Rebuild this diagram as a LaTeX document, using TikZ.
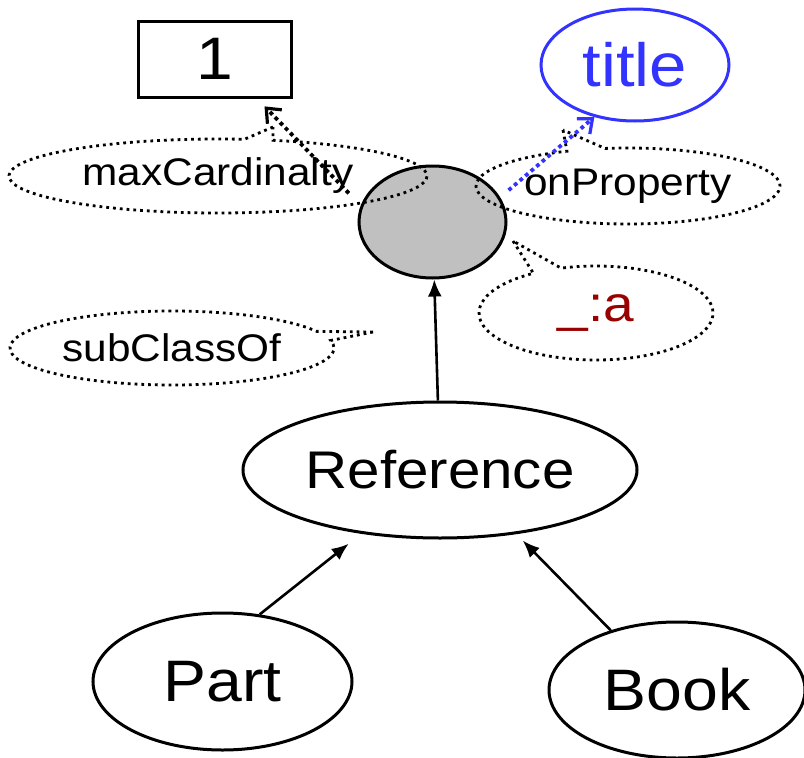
\documentclass[tikz,border=0pt]{standalone}
\usepackage{fontspec}
\setmainfont[FakeStretch=1.1]{Liberation Sans}
\usetikzlibrary{shapes.geometric,shapes.callouts,arrows.meta}

\definecolor{titleblue}{RGB}{51,51,255}
\definecolor{blankred}{RGB}{153,0,0}
\definecolor{blankgray}{RGB}{192,192,192}

\tikzset{
  class/.style={ellipse,draw,line width=3pt,inner sep=0pt},
  literal/.style={rectangle,draw,line width=3pt,inner sep=0pt},
  note/.style={ellipse callout,draw,line width=2.8pt,dash pattern=on 2.8pt off 4pt,
    inner sep=0pt,font=\fontsize{38.5}{40}\selectfont},
  sub/.style={-{Latex[length=17pt,width=14pt]},line width=2.6pt},
  prop/.style={-{Straight Barb[length=12pt,width=20pt,line width=3.2pt]},
    line width=3.8pt,dash pattern=on 3.8pt off 3.5pt}
}

\begin{document}
\begin{tikzpicture}[x=1pt,y=1pt]%,node distance=5cm]
  \useasboundingbox (0,0) rectangle (804,-758);

  \node[class,fill=blankgray,minimum width=147pt,minimum height=112pt] (node1) at (432.5,-222) {};
  \node[literal,minimum width=153pt,minimum height=76pt,font=\fontsize{60}{60}\selectfont] (node2) at (214.5,-59) {1};
  \node[class,draw=titleblue,text=titleblue,minimum width=188pt,minimum height=112pt,font=\fontsize{61}{61}\selectfont] (node3) at (635,-65) {title};
  \node[class,minimum width=394pt,minimum height=136pt,font=\fontsize{53}{53}\selectfont] (node4) at (440,-470) {Reference};
  \node[class,minimum width=259pt,minimum height=137pt,font=\fontsize{58.5}{58.5}\selectfont] (node5) at (222.5,-681.5) {Part};
  \node[class,minimum width=256pt,minimum height=136pt,font=\fontsize{58.5}{58.5}\selectfont] (node6) at (677,-690) {Book};

  \node[note,minimum width=418pt,minimum height=74pt,callout pointer arc=8,callout absolute pointer={(273,-127)}] (node7) at (218,-176) {maxCardinalty};
  \node[note,minimum width=304pt,minimum height=76pt,callout absolute pointer={(563,-130)}] (node8) at (628,-186) {onProperty};
  \node[note,minimum width=234pt,minimum height=94pt,callout absolute pointer={(513,-241)},text=blankred,font=\fontsize{50}{50}\selectfont] (node9) at (596,-313) {\_:a};
  \node[note,minimum width=324pt,minimum height=74pt,callout absolute pointer={(373,-332)}] (node10) at (172,-348) {subClassOf};

  \path[sub] (node4) edge (node1);
  \path (node5.61) edge[sub,shorten >=16pt] (node4.219)
    (node6.138) edge[sub,shorten >=9pt] (node4.320);
  \path (node1.167) edge[prop,shorten <=17pt,shorten >=11pt] (node2.-43)
    (node1.20) edge[prop,titleblue,shorten <=11pt] (node3.232);

\end{tikzpicture}
\end{document}
